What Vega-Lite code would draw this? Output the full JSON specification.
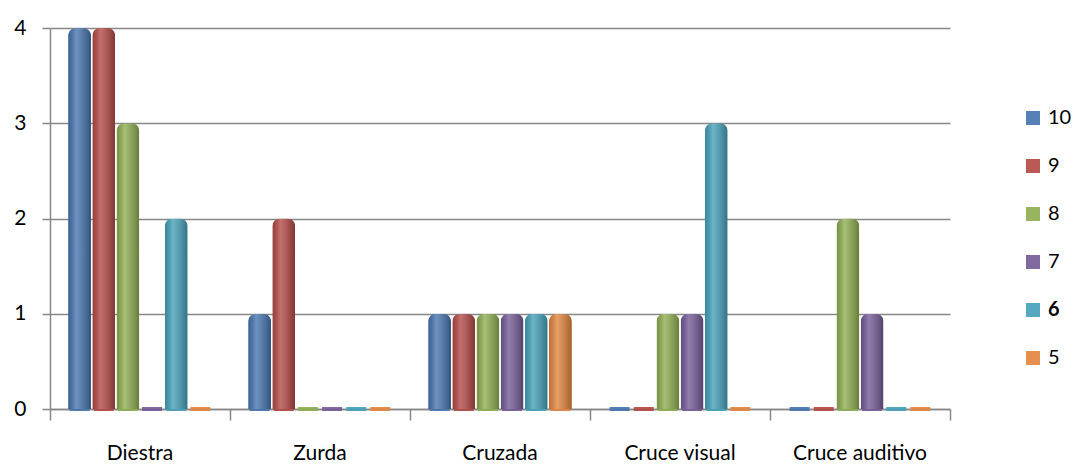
{
  "$schema": "https://vega.github.io/schema/vega-lite/v6.json",
  "width": 900,
  "height": 381,
  "padding": {"left": 50, "top": 28, "right": 137, "bottom": 56},
  "autosize": {"type": "none"},
  "background": "white",
  "config": {
    "view": {"stroke": null},
    "font": "Lato",
    "axis": {"labelFont": "Lato", "labelFontSize": 21, "labelColor": "#000000", "domainColor": "#878787", "tickColor": "#878787", "gridColor": "#878787"}
  },
  "data": {
    "values": [
      {"cat": "Diestra", "serie": "10", "v": 4},
      {"cat": "Diestra", "serie": "9", "v": 4},
      {"cat": "Diestra", "serie": "8", "v": 3},
      {"cat": "Diestra", "serie": "7", "v": 0},
      {"cat": "Diestra", "serie": "6", "v": 2},
      {"cat": "Diestra", "serie": "5", "v": 0},
      {"cat": "Zurda", "serie": "10", "v": 1},
      {"cat": "Zurda", "serie": "9", "v": 2},
      {"cat": "Zurda", "serie": "8", "v": 0},
      {"cat": "Zurda", "serie": "7", "v": 0},
      {"cat": "Zurda", "serie": "6", "v": 0},
      {"cat": "Zurda", "serie": "5", "v": 0},
      {"cat": "Cruzada", "serie": "10", "v": 1},
      {"cat": "Cruzada", "serie": "9", "v": 1},
      {"cat": "Cruzada", "serie": "8", "v": 1},
      {"cat": "Cruzada", "serie": "7", "v": 1},
      {"cat": "Cruzada", "serie": "6", "v": 1},
      {"cat": "Cruzada", "serie": "5", "v": 1},
      {"cat": "Cruce visual", "serie": "10", "v": 0},
      {"cat": "Cruce visual", "serie": "9", "v": 0},
      {"cat": "Cruce visual", "serie": "8", "v": 1},
      {"cat": "Cruce visual", "serie": "7", "v": 1},
      {"cat": "Cruce visual", "serie": "6", "v": 3},
      {"cat": "Cruce visual", "serie": "5", "v": 0},
      {"cat": "Cruce auditivo", "serie": "10", "v": 0},
      {"cat": "Cruce auditivo", "serie": "9", "v": 0},
      {"cat": "Cruce auditivo", "serie": "8", "v": 2},
      {"cat": "Cruce auditivo", "serie": "7", "v": 1},
      {"cat": "Cruce auditivo", "serie": "6", "v": 0},
      {"cat": "Cruce auditivo", "serie": "5", "v": 0}
    ]
  },
  "encoding": {
    "xOffset": {
      "field": "serie", "type": "nominal",
      "sort": ["10", "9", "8", "7", "6", "5"],
      "scale": {"paddingOuter": 0.75, "paddingInner": 0.05}
    }
  },
  "layer": [
    {
      "mark": {"type": "tick", "orient": "horizontal", "thickness": 4, "opacity": 0.9, "size": 20},
      "encoding": {
        "x": {
          "field": "cat", "type": "nominal", "sort": null,
          "scale": {"paddingInner": 0, "paddingOuter": 0},
          "axis": {"title": null, "orient": "bottom", "labelAngle": 0, "ticks": false, "labelPadding": 33, "domain": true, "domainWidth": 1.5, "grid": false}
        },
        "y": {"datum": 0, "type": "quantitative", "scale": {"domain": [0, 4]},
          "axis": {"title": null, "values": [0, 1, 2, 3, 4], "format": "d", "tickSize": 8, "labelPadding": 16, "grid": true, "gridWidth": 1.5, "domainWidth": 1.5, "tickWidth": 1.5}},
        "color": {
          "field": "serie", "type": "nominal",
          "sort": ["10", "9", "8", "7", "6", "5"],
          "scale": {"domain": ["10", "9", "8", "7", "6", "5"], "range": ["#4573AE", "#B24845", "#8DAC4E", "#735A96", "#439FB8", "#E2843D"]},
          "legend": {
            "title": null, "symbolType": "square", "symbolSize": 196, "symbolStrokeWidth": 0, "labelFontSize": 20, "labelFont": "Lato", "labelColor": "#000000",
            "rowPadding": 28, "orient": "none", "legendX": 973, "legendY": 80, "padding": 0, "labelOffset": 5,
            "labelFontWeight": {"expr": "datum.label == '6' ? 'bold' : 'normal'"}
          }
        }
      }
    },
    {
      "mark": {"type": "bar", "cornerRadiusTopLeft": 8, "cornerRadiusTopRight": 8},
      "encoding": {
        "x": {"field": "cat", "type": "nominal", "sort": null, "axis": null},
        "y": {"field": "v", "type": "quantitative"},
        "color": {"field": "serie", "type": "nominal", "sort": ["10", "9", "8", "7", "6", "5"]}
      }
    },
    {
      "mark": {"type": "bar", "cornerRadiusTopLeft": 8, "cornerRadiusTopRight": 8,
        "fill": {"gradient": "linear", "x1": 0, "y1": 0, "x2": 1, "y2": 0,
          "stops": [{"offset": 0, "color": "rgba(0,0,0,0.15)"}, {"offset": 0.35, "color": "rgba(255,255,255,0.22)"}, {"offset": 1, "color": "rgba(0,0,0,0.28)"}]}},
      "encoding": {
        "x": {"field": "cat", "type": "nominal", "sort": null, "axis": null},
        "y": {"field": "v", "type": "quantitative"}
      }
    },
    {
      "mark": {"type": "rule", "opacity": 0},
      "encoding": {
        "x": {"field": "cat", "type": "nominal", "sort": null,
          "axis": {"title": null, "orient": "bottom", "labels": false, "ticks": true, "tickSize": 11, "bandPosition": 0, "domain": false, "grid": false, "tickWidth": 1.5}}
      }
    },
    {
      "mark": {"type": "rule", "opacity": 0},
      "encoding": {
        "x": {"field": "cat", "type": "nominal", "sort": null,
          "axis": {"title": null, "orient": "bottom", "labels": false, "ticks": true, "tickSize": 11, "bandPosition": 1, "values": ["Cruce auditivo"], "domain": false, "grid": false, "tickWidth": 1.5}}
      }
    }
  ],
  "resolve": {"axis": {"x": "independent"}}
}
